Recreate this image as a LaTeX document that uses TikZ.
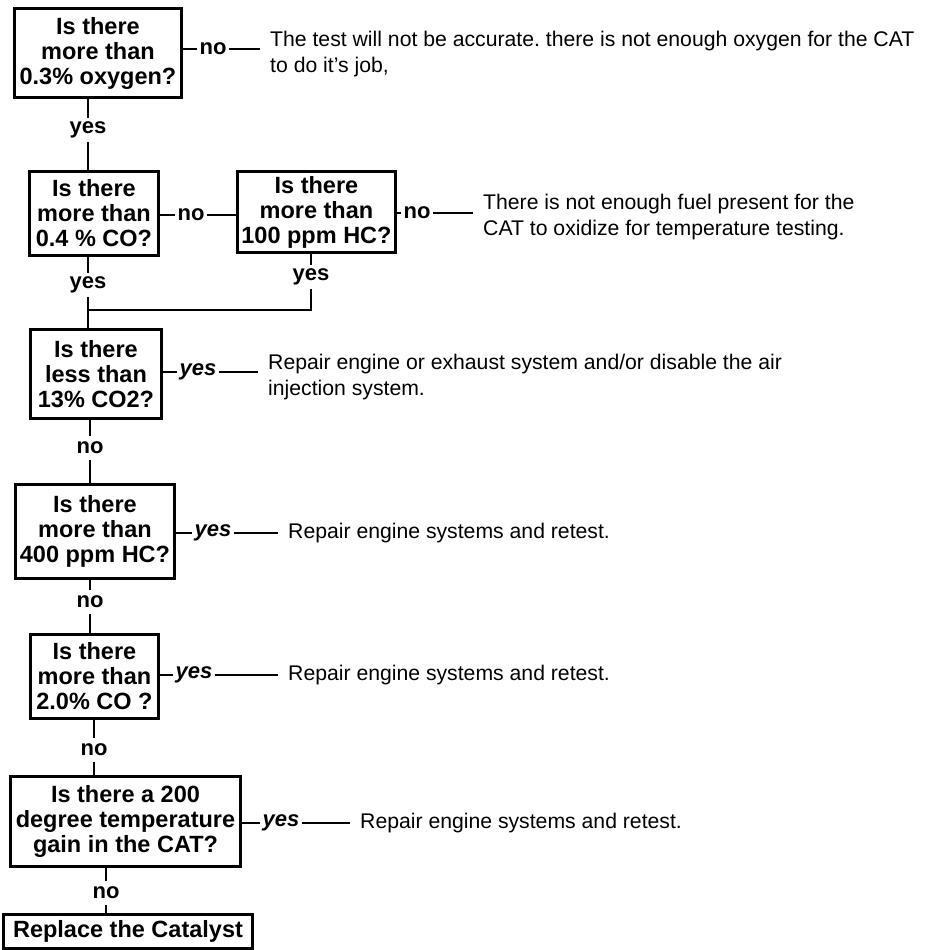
\documentclass[tikz,border=0pt]{standalone}
\usepackage{fontspec}
\setmainfont{Liberation Sans}
\usepackage{tikz}
\usetikzlibrary{positioning,calc}
\frenchspacing
\newcommand{\questionfont}{\fontsize{23.5}{25}\selectfont\bfseries}
\newcommand{\answerfont}{\fontsize{22}{24}\selectfont\bfseries}
\newcommand{\answeritfont}{\fontsize{22}{24}\selectfont\bfseries\itshape}
\newcommand{\remarkfont}{\fontsize{21.2}{26}\selectfont}
\tikzstyle{question}=[draw, line width=3pt, align=center, inner sep=0pt, font=\questionfont]
\tikzstyle{answer}  =[inner xsep=2pt, inner ysep=0pt, minimum height=24pt, font=\answerfont]
\tikzstyle{answerIt}=[answer, font=\answeritfont]
\tikzstyle{remark}  =[align=left, inner sep=0pt, font=\remarkfont]
\tikzstyle{link}    =[line width=1.5pt]
\tikzstyle{toremark}=[link, shorten >=10pt]

\begin{document}
\begin{tikzpicture}[x=1pt,y=-1pt]
      \useasboundingbox (0,0) rectangle (929,950);
      % questions
      \node[question, minimum width=167pt, minimum height=89pt] (q1) at (98,53) {Is there\\more than\\0.3\% oxygen?};
      \node[question, minimum width=129pt, minimum height=84pt] (q2) at (94,213.5) {Is there\\more than\\0.4 \% CO?};
      \node[question, minimum width=158pt, minimum height=81pt] (q3) at (316.5,212) {Is there\\more than\\100 ppm HC?};
      \node[question, minimum width=131pt, minimum height=89pt] (q4) at (96,374) {Is there\\less than\\13\% CO2?};
      \node[question, minimum width=159pt, minimum height=94pt] (q5) at (95,531.5) {Is there\\more than\\400 ppm HC?};
      \node[question, minimum width=128pt, minimum height=84pt] (q6) at (94.5,676.5) {Is there\\more than\\2.0\% CO ?};
      \node[question, minimum width=230pt, minimum height=90pt] (q7) at (125.5,821.5) {Is there a 200\\degree temperature\\gain in the CAT?};
      \node[question, minimum width=249pt, minimum height=34pt] (q8) at (128,931) {Replace the Catalyst};
      % answers
      \node[answer] (y1) at (88,130) {yes};
      \node[answer] (n1) at (213,49) {no};
      \node[answer] (n2) at (191,215) {no};
      \node[answer] (n3) at (417,213) {no};
      \node[answer] (y2) at (88,285) {yes};
      \node[answer] (y3) at (311,277) {yes};
      \node[answerIt] (y4) at (198,372) {yes};
      \node[answer] (n4) at (90,448) {no};
      \node[answerIt] (y5) at (213,533) {yes};
      \node[answer] (n5) at (90,602) {no};
      \node[answerIt] (y6) at (194,675) {yes};
      \node[answer] (n6) at (94,750) {no};
      \node[answerIt] (y7) at (281,823) {yes};
      \node[answer] (n7) at (106,893) {no};
      \coordinate (j) at (88,310);
      % remarks
      \node[remark, anchor=north west] (t1) at (270,31) {The test will not be accurate. there is not enough oxygen for the CAT\\to do it's job,};
      \node[remark, anchor=north west] (t3) at (483,194) {There is not enough fuel present for the\\CAT to oxidize for temperature testing.};
      \node[remark, anchor=north west] (t4) at (268,354) {Repair engine or exhaust system and/or disable the air\\injection system.};
      \node[remark, anchor=west] (t5) at (288,533) {Repair engine systems and retest.};
      \node[remark, anchor=west] (t6) at (288,675) {Repair engine systems and retest.};
      \node[remark, anchor=west] (t7) at (360,823) {Repair engine systems and retest.};
      % connectors
      \draw[link] (y1 |- q1.south) -- (y1.north);
      \draw[link] (y1.south) -- (y1 |- q2.north);
      \draw[link] (n1 -| q1.east) -- (n1.west);
      \draw[toremark] (n1.east) -- (n1 -| t1.west);
      \draw[link] (n2 -| q2.east) -- (n2.west);
      \draw[link] (n2.east) -- (n2 -| q3.west);
      \draw[link] (n3 -| q3.east) -- (n3.west);
      \draw[toremark] (n3.east) -- (n3 -| t3.west);
      \draw[link] (y2 |- q2.south) -- (y2.north);
      \draw[link] (y2.south) -- (y2 |- q4.north);
      \draw[link] (y3 |- q3.south) -- (y3.north);
      \draw[link] (y3.south) -- (y3 |- j) -- (j);
      \draw[link] (y4 -| q4.east) -- (y4.west);
      \draw[toremark] (y4.east) -- (y4 -| t4.west);
      \draw[link] (n4 |- q4.south) -- (n4.north);
      \draw[link] (n4.south) -- (n4 |- q5.north);
      \draw[link] (y5 -| q5.east) -- (y5.west);
      \draw[toremark] (y5.east) -- (t5.west);
      \draw[link] (n5 |- q5.south) -- (n5.north);
      \draw[link] (n5.south) -- (n5 |- q6.north);
      \draw[link] (y6 -| q6.east) -- (y6.west);
      \draw[toremark] (y6.east) -- (t6.west);
      \draw[link] (n6 |- q6.south) -- (n6.north);
      \draw[link] (n6.south) -- (n6 |- q7.north);
      \draw[link] (y7 -| q7.east) -- (y7.west);
      \draw[toremark] (y7.east) -- (t7.west);
      \draw[link] (n7 |- q7.south) -- (n7.north);
      \draw[link] (n7.south) -- (n7 |- q8.north);
\end{tikzpicture}
\end{document}
